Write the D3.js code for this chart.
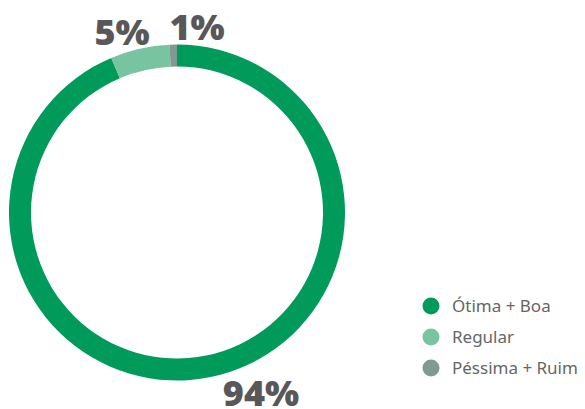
<!DOCTYPE html>
<html>
<head>
<meta charset="utf-8">
<script src="https://cdn.jsdelivr.net/npm/d3@7"></script>
<style>
  body { margin: 0; background: #fff; }
</style>
</head>
<body>
<div id="container"></div>
<script>
// Chart data
var categories = ["Ótima + Boa", "Regular", "Péssima + Ruim"];
var values = [93.6, 5.7, 0.7];
var valueLabels = ["94%", "5%", "1%"];
var colors = ["#009a5b", "#78c3a0", "#7f9a90"];

var svg_width = 585;
var svg_height = 409;

var svg = d3.select("#container")
    .append("svg")
    .attr("width", svg_width)
    .attr("height", svg_height);

var cx = 177, cy = 212.5;
var outerR = 168, innerR = 146;

// pie goes clockwise from the top
var pie = d3.pie().sort(null).value(d => d);
var arc = d3.arc().innerRadius(innerR).outerRadius(outerR);

var color = d3.scaleOrdinal().domain(categories).range(colors);

var g = svg.append("g").attr("transform", `translate(${cx},${cy})`);

var arcs = pie(values);

g.selectAll("path")
    .data(arcs)
    .enter()
    .append("path")
    .attr("d", arc)
    .attr("fill", (d, i) => color(categories[i]));

// percentage labels, placed around the ring
var labelPos = [
    {dx: 84, dy: 193},
    {dx: -55, dy: -168},
    {dx: 20, dy: -173}
];

g.selectAll("text.pct")
    .data(arcs)
    .enter()
    .append("text")
    .attr("class", "pct")
    .attr("x", (d, i) => labelPos[i].dx)
    .attr("y", (d, i) => labelPos[i].dy)
    .attr("text-anchor", "middle")
    .style("font-family", "'Open Sans', sans-serif")
    .style("font-weight", 800)
    .style("font-size", "36px")
    .style("fill", "#58585a")
    .text((d, i) => valueLabels[i]);

// legend
var legend = svg.append("g").attr("transform", "translate(431,306)");

var items = legend.selectAll("g")
    .data(categories)
    .enter()
    .append("g")
    .attr("transform", (d, i) => `translate(0,${i * 31})`);

items.append("circle")
    .attr("r", 8.5)
    .attr("fill", d => color(d));

items.append("text")
    .attr("x", 21)
    .attr("y", 6)
    .style("font-family", "'Noto Sans', sans-serif")
    .style("font-size", "17px")
    .style("fill", "#666666")
    .text(d => d);
</script>
</body>
</html>
